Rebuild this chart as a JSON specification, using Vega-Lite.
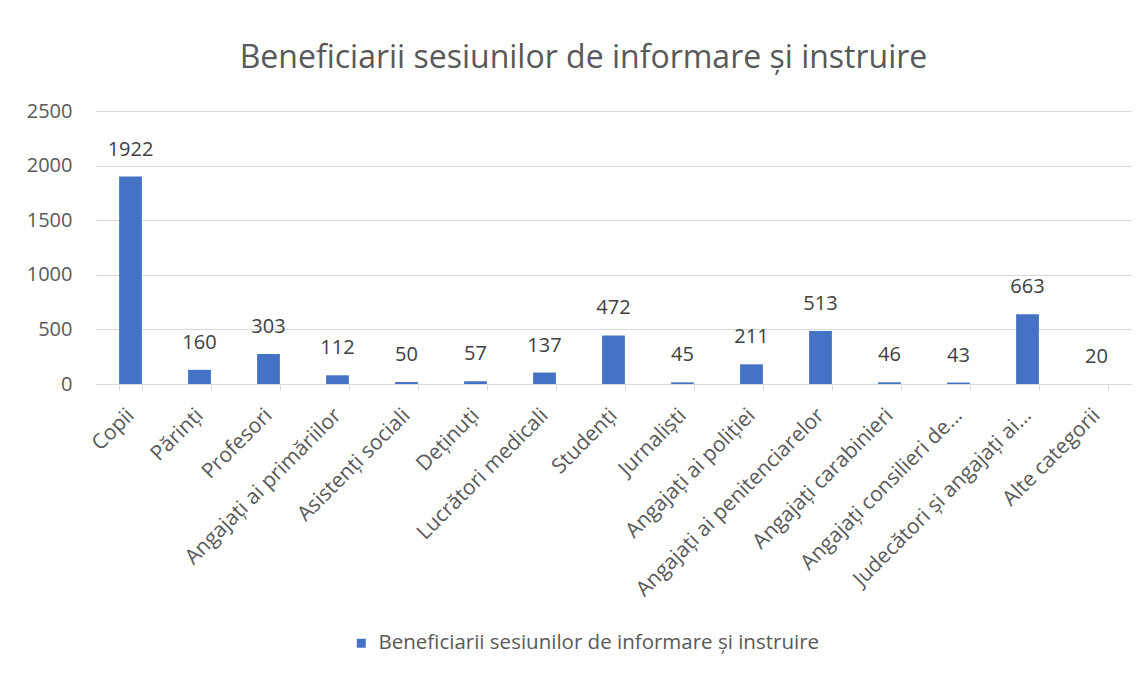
{
  "$schema": "https://vega.github.io/schema/vega-lite/v6.json",
  "autosize": {"type": "none"},
  "width": 1035,
  "height": 273,
  "padding": {"left": 96, "top": 111, "right": 16, "bottom": 291},
  "background": "white",
  "config": {
    "view": {"stroke": null},
    "font": "Open Sans"
  },
  "title": {
    "text": "Beneficiarii sesiunilor de informare și instruire",
    "font": "Open Sans",
    "fontSize": 32,
    "fontWeight": "normal",
    "color": "#595959",
    "anchor": "middle",
    "frame": "group",
    "dx": -30,
    "offset": 26
  },
  "data": {
    "values": [
      {"categorie": "Copii", "valoare": 1922, "bara": 1900, "serie": "Beneficiarii sesiunilor de informare și instruire"},
      {"categorie": "Părinți", "valoare": 160, "bara": 130, "serie": "Beneficiarii sesiunilor de informare și instruire"},
      {"categorie": "Profesori", "valoare": 303, "bara": 275, "serie": "Beneficiarii sesiunilor de informare și instruire"},
      {"categorie": "Angajați ai primăriilor", "valoare": 112, "bara": 80, "serie": "Beneficiarii sesiunilor de informare și instruire"},
      {"categorie": "Asistenți sociali", "valoare": 50, "bara": 18, "serie": "Beneficiarii sesiunilor de informare și instruire"},
      {"categorie": "Deținuți", "valoare": 57, "bara": 25, "serie": "Beneficiarii sesiunilor de informare și instruire"},
      {"categorie": "Lucrători medicali", "valoare": 137, "bara": 105, "serie": "Beneficiarii sesiunilor de informare și instruire"},
      {"categorie": "Studenți", "valoare": 472, "bara": 445, "serie": "Beneficiarii sesiunilor de informare și instruire"},
      {"categorie": "Jurnaliști", "valoare": 45, "bara": 15, "serie": "Beneficiarii sesiunilor de informare și instruire"},
      {"categorie": "Angajați ai poliției", "valoare": 211, "bara": 180, "serie": "Beneficiarii sesiunilor de informare și instruire"},
      {"categorie": "Angajați ai penitenciarelor", "valoare": 513, "bara": 485, "serie": "Beneficiarii sesiunilor de informare și instruire"},
      {"categorie": "Angajați carabinieri", "valoare": 46, "bara": 16, "serie": "Beneficiarii sesiunilor de informare și instruire"},
      {"categorie": "Angajați consilieri de…", "valoare": 43, "bara": 13, "serie": "Beneficiarii sesiunilor de informare și instruire"},
      {"categorie": "Judecători și angajați ai…", "valoare": 663, "bara": 638, "serie": "Beneficiarii sesiunilor de informare și instruire"},
      {"categorie": "Alte categorii", "valoare": 20, "bara": 0, "serie": "Beneficiarii sesiunilor de informare și instruire"}
    ]
  },
  "encoding": {
    "x": {
      "field": "categorie",
      "type": "nominal",
      "sort": null,
      "scale": {"paddingInner": 0.67, "paddingOuter": 0.335},
      "axis": {
        "title": null,
        "labelAngle": -45,
        "labelAlign": "right",
        "labelBaseline": "middle",
        "labelFont": "Open Sans",
        "labelFontSize": 21,
        "labelColor": "#595959",
        "labelLimit": 500,
        "labelPadding": 22,
        "domainColor": "#d9d9d9",
        "domainWidth": 1,
        "tickColor": "#d9d9d9",
        "tickSize": 6,
        "tickBand": "extent",
        "grid": false
      }
    },
    "y": {
      "field": "bara",
      "type": "quantitative",
      "scale": {"domain": [0, 2500]},
      "axis": {
        "title": null,
        "values": [0, 500, 1000, 1500, 2000, 2500],
        "format": "d",
        "domain": false,
        "ticks": false,
        "labelFont": "Open Sans",
        "labelFontSize": 20,
        "labelColor": "#595959",
        "labelPadding": 24,
        "gridColor": "#d9d9d9",
        "gridWidth": 1
      }
    }
  },
  "layer": [
    {
      "mark": {"type": "bar"},
      "encoding": {
        "color": {
          "field": "serie",
          "type": "nominal",
          "scale": {"range": ["#4472C4"]},
          "legend": {
            "title": null,
            "orient": "none",
            "legendX": 255,
            "legendY": 522,
            "symbolType": "square",
            "symbolSize": 81,
            "symbolStrokeWidth": 0,
            "labelFont": "Open Sans",
            "labelFontSize": 20.5,
            "labelColor": "#595959",
            "labelOffset": 7,
            "labelLimit": 700
          }
        }
      }
    },
    {
      "mark": {"type": "text", "dy": -27, "baseline": "middle", "font": "Open Sans", "fontSize": 20, "color": "#404040"},
      "encoding": {
        "text": {"field": "valoare", "type": "quantitative"}
      }
    }
  ]
}
